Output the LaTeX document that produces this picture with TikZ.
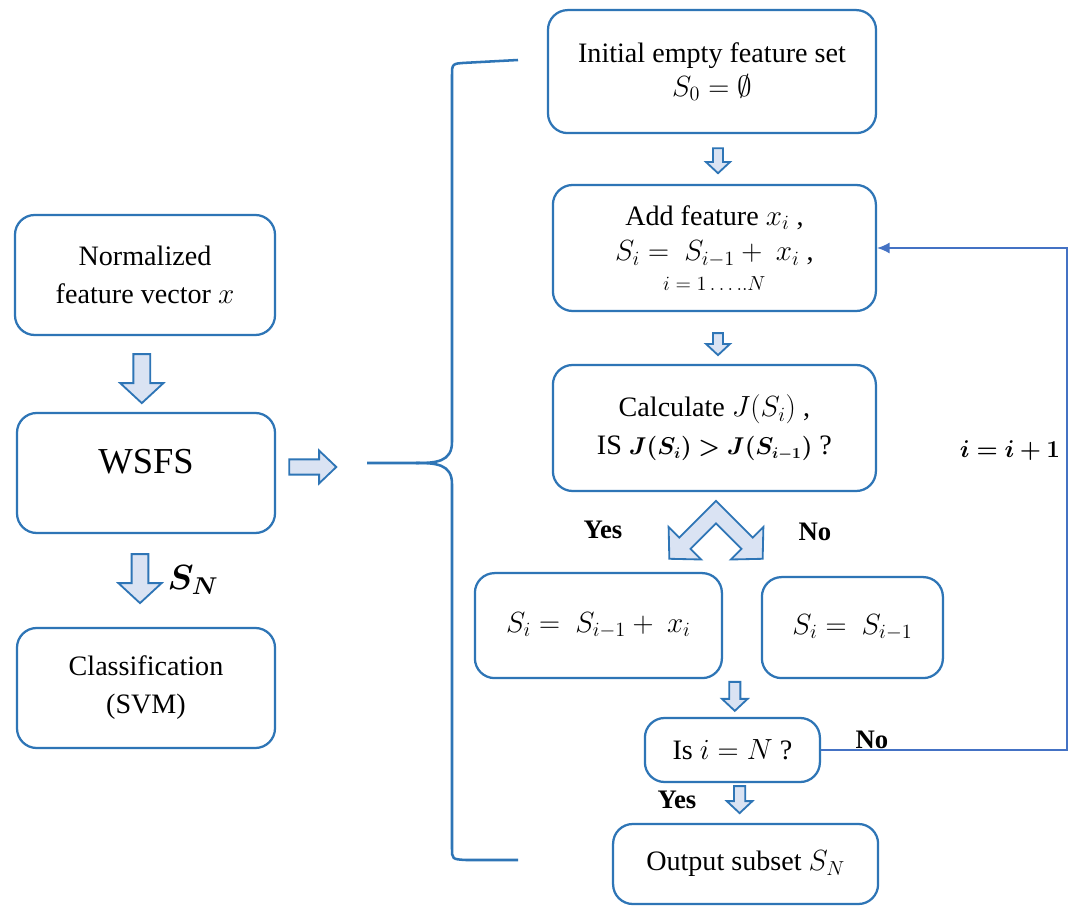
\documentclass[tikz,border=0pt]{standalone}
\usepackage{fontspec}
\usepackage{bm}
\setmainfont{Liberation Serif}
\usetikzlibrary{calc,arrows.meta}
\definecolor{boxblue}{HTML}{2E75B6}
\definecolor{linkblue}{HTML}{4472C4}
\definecolor{arrowfill}{HTML}{DAE3F3}
\tikzset{
  box/.style={draw=boxblue, line width=1.6pt, rounded corners=14pt, fill=white, align=center, inner sep=2pt},
  blockarr/.style={draw=boxblue, fill=arrowfill, line width=1.3pt, line join=miter},
  lbl/.style={font=\fontsize{19}{23}\selectfont\bfseries},
  pics/barrow/.style n args={4}{code={
    \draw[blockarr] (0,-#2) -- ({#1-#4},-#2) -- ({#1-#4},-#3) -- (#1,0) -- ({#1-#4},#3) -- ({#1-#4},#2) -- (0,#2) -- cycle;
  }}
}

\begin{document}
\begin{tikzpicture}[font=\fontsize{20}{27}\selectfont]
			%%%%% START %%%%%
			\useasboundingbox[fill=white] (0,0) rectangle (26.925,22.65);
			
			% left column
			\node[box, minimum width=6.5cm, minimum height=3cm] (norm) at (3.625, 15.775) {Normalized\\feature vector $x$};
			\node[box, minimum width=6.45cm, minimum height=3cm, font=\fontsize{26}{30}\selectfont] (wsfs) at (3.65, 10.825) {\raisebox{0.28cm}[\height][\depth]{WSFS}};
			\node[box, minimum width=6.45cm, minimum height=3cm] (classif) at (3.65, 5.45) {Classification\\(SVM)};
			
			% right column
			\node[box, minimum width=8.2cm, minimum height=3.075cm] (init) at (17.8, 20.86) {Initial empty feature set\\[-3pt]$S_0 = \emptyset$};
			\node[box, minimum width=8.075cm, minimum height=3.15cm] (add) at (17.86, 16.45) {Add feature $x_i$ ,\\[-2pt]$S_i = \ S_{i-1} + \ x_i$ ,\\[-6pt]{\fontsize{14.5}{16}\selectfont$i = 1\ldots..N$}};
			\node[box, minimum width=8.075cm, minimum height=3.15cm] (calc) at (17.86, 11.95) {Calculate $J(S_i)$ ,\\IS {\fontsize{16}{20}\selectfont$\bm{J(S_i) > J(S_{i-1})}$} ?};
			\node[box, minimum width=6.175cm, minimum height=2.625cm] (yesb) at (14.96, 7.01) {$S_i = \ S_{i-1} + \ x_i$};
			\node[box, minimum width=4.525cm, minimum height=2.525cm] (nob) at (21.31, 6.96) {$S_i = \ S_{i-1}$};
			\node[box, minimum width=4.375cm, minimum height=1.6cm] (isN) at (18.31, 3.9) {Is $i = N$ ?};
			\node[box, minimum width=6.625cm, minimum height=2cm] (out) at (18.64, 1.05) {Output subset $S_N$};
			
			% block arrows
			\pic[rotate=-90] at ($(norm.south)+(-0.08,-0.45)$) {barrow={1.225}{0.21}{0.54}{0.5}};
			\pic at ($(wsfs.east)+(0.33,0.15)$) {barrow={1.175}{0.19}{0.41}{0.43}};
			\pic[rotate=-90] at ($(wsfs.south)+(-0.15,-0.5)$) {barrow={1.225}{0.21}{0.54}{0.5}};
			\pic[rotate=-90] at ($(init.south)+(0.15,-0.35)$) {barrow={0.625}{0.125}{0.3}{0.28}};
			\pic[rotate=-90] at ($(add.south)+(0.09,-0.525)$) {barrow={0.55}{0.125}{0.3}{0.28}};
			\pic[rotate=-90] at ($(isN.north)+(0.06,0.875)$) {barrow={0.725}{0.14}{0.32}{0.3}};
			\pic[rotate=-90] at ($(isN.south)+(0.18,-0.075)$) {barrow={0.675}{0.14}{0.32}{0.3}};
			
			% yes / no fork
			\coordinate (fork) at ($(calc.south)+(0.04,-0.5)$);
			\draw[blockarr] ($(fork)+(0,0.283)$) -- ($(fork)+(315:1.1)+(45:0.2)$) -- ($(fork)+(315:1.1)+(45:0.575)$) -- ($(fork)+(315:1.65)$)
			  -- ($(fork)+(315:1.1)+(225:0.575)$) -- ($(fork)+(315:1.1)+(225:0.2)$) -- ($(fork)+(0,-0.283)$)
			  -- ($(fork)+(225:1.1)+(315:0.2)$) -- ($(fork)+(225:1.1)+(315:0.575)$) -- ($(fork)+(225:1.65)$)
			  -- ($(fork)+(225:1.1)+(135:0.575)$) -- ($(fork)+(225:1.1)+(135:0.2)$) -- cycle;
			
			% brace
			\draw[boxblue, line width=1.8pt] (12.95,21.15) -- (11.65,21.08) .. controls (11.3,21.06) .. (11.3,20.75) -- (11.3,11.6)
			  .. controls (11.3,11.1) and (10.9,11.075) .. (10.4,11.075) -- (9.175,11.075);
			\draw[boxblue, line width=1.8pt] (10.4,11.075) .. controls (10.9,11.075) and (11.3,11.05) .. (11.3,10.55) -- (11.3,1.45)
			  .. controls (11.3,1.17) .. (11.65,1.15) -- (12.95,1.15);
			
			% loop back
			\coordinate (ret) at (26.675, 16.4);
			\draw[linkblue, line width=1.4pt, -{Latex[length=9pt,width=8pt]}] (isN.east) -| (ret |- add.east) -- (add.east);
			
			% labels
			\node[lbl] (yes1) at (15.075, 9.4) {Yes};
			\node[lbl] (no1) at (20.375, 9.35) {No};
			\node[lbl] (no2) at (21.8, 4.15) {No};
			\node[lbl] (yes2) at (16.925, 2.65) {Yes};
			\node[anchor=base, font=\fontsize{17.5}{21}\selectfont] (incr) at (25.25, 11.2) {$\bm{i = i + 1}$};
			\node (sn) at (4.825, 8.15) {\fontsize{25}{28}\selectfont$\bm{S_N}$};
			
			%%%%% END %%%%%
\end{tikzpicture}
\end{document}
